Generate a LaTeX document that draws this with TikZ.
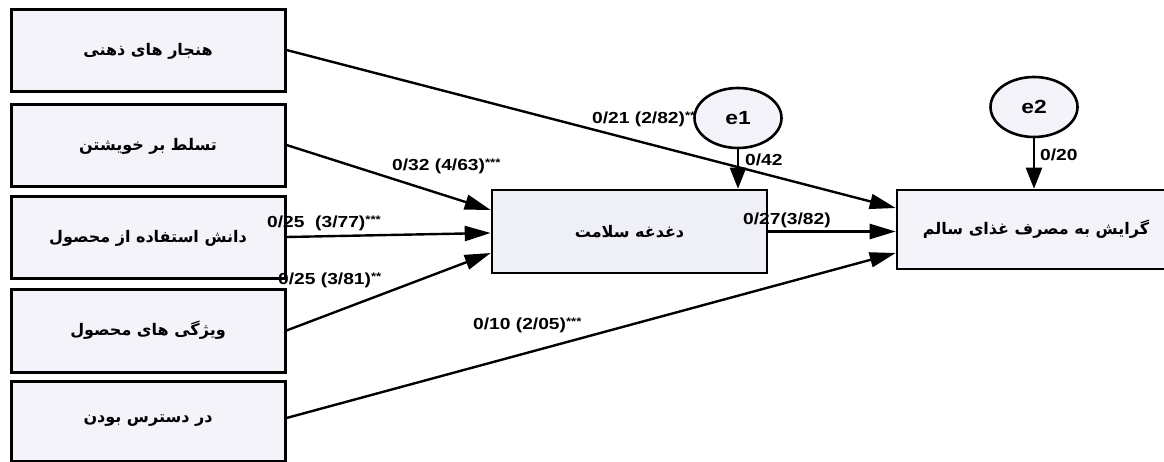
\documentclass[tikz,border=0pt]{standalone}
\usepackage{fontspec}
\usetikzlibrary{arrows.meta,shapes.geometric}
\TeXXeTstate=1
\newfontfamily\fafont[Script=Arabic]{DejaVu Sans}
\newfontfamily\labfont[FakeStretch=1.2]{Liberation Sans}
\definecolor{boxfill}{HTML}{F5F3FA}
\definecolor{midfill}{HTML}{EFF0F7}
\newcommand{\fa}[1]{{\fafont\bfseries\beginR #1\endR}}
\newcommand{\stars}[1]{\raisebox{4pt}{\fontsize{11}{11}\selectfont #1}}
\tikzset{
  varbox/.style={draw, line width=3pt, fill=boxfill, minimum width=274pt, minimum height=82pt, inner sep=0pt, font=\fontsize{16}{18}\selectfont},
  midbox/.style={draw, line width=2.6pt, fill=midfill, minimum width=275pt, minimum height=83pt, inner sep=0pt, font=\fontsize{16}{18}\selectfont},
  errnode/.style={draw, ellipse, line width=2.6pt, fill=boxfill, minimum width=87pt, minimum height=60pt, inner sep=0pt, font=\labfont\bfseries\fontsize{19}{20}\selectfont},
  link/.style={line width=2.4pt, -{Triangle[length=26pt,width=15pt]}},
  vlink/.style={line width=2.4pt, -{Triangle[length=21pt,width=16pt]}},
  coef/.style={anchor=west, inner sep=0pt, font=\labfont\bfseries\fontsize{16}{18}\selectfont}
}
\begin{document}
\begin{tikzpicture}[x=1pt,y=-1pt]
\useasboundingbox (0,0) rectangle (1164,462);
\clip (0,0) rectangle (1164,462);
% left boxes
\node[varbox] (b1) at (148,51) {\fa{هنجار های ذهنی}};
\node[varbox] (b2) at (148,146) {\fa{تسلط بر خویشتن}};
\node[varbox] (b3) at (148,238) {\fa{دانش استفاده از محصول}};
\node[varbox, minimum height=83pt] (b4) at (148,330.5) {\fa{ویژگی های محصول}};
\node[varbox, minimum height=80pt] (b5) at (148,421) {\fa{در دسترس بودن}};
% middle and right
\node[midbox] (m) at (629.5,231.5) {\fa{دغدغه سلامت}};
\node[varbox, line width=2.6pt, minimum width=278pt, minimum height=79pt] (r) at (1036,229.5) {\fa{گرایش به مصرف غذای سالم}};
% errors
\node[errnode] (e1) at (738,118) {e1};
\node[errnode] (e2) at (1034,107) {e2};
% connectors
\draw[link] ([yshift=1pt]b1.east) -- ([yshift=21.5pt]r.west);
\draw[link] ([yshift=1pt]b2.east) -- ([yshift=21.5pt]m.west);
\draw[link] ([yshift=1pt]b3.east) -- ([yshift=-1.5pt]m.west);
\draw[link] (b4.east) -- ([yshift=-21.5pt]m.west);
\draw[link] ([yshift=3pt]b5.east) -- ([yshift=-23.5pt]r.west);
\draw[link] (m.east) -- (m.east -| r.west);
\draw[vlink] (e1.south) -- (e1.south |- m.north);
\draw[vlink] (e2.south) -- (e2.south |- r.north);
% coefficients
\node[coef] (c1) at (592,119) {0/21 (2/82)\stars{**}};
\node[coef] (c2) at (392,166) {0/32 (4/63)\stars{***}};
\node[coef] (c3) at (267,223) {0/25\ \ (3/77)\stars{***}};
\node[coef] (c4) at (278,280) {0/25 (3/81)\stars{**}};
\node[coef] (c5) at (473,325) {0/10 (2/05)\stars{***}};
\node[coef] (c6) at (745,160) {0/42};
\node[coef] (c7) at (743,220) {0/27(3/82)};
\node[coef] (c8) at (1040,155) {0/20};
\end{tikzpicture}
\end{document}
